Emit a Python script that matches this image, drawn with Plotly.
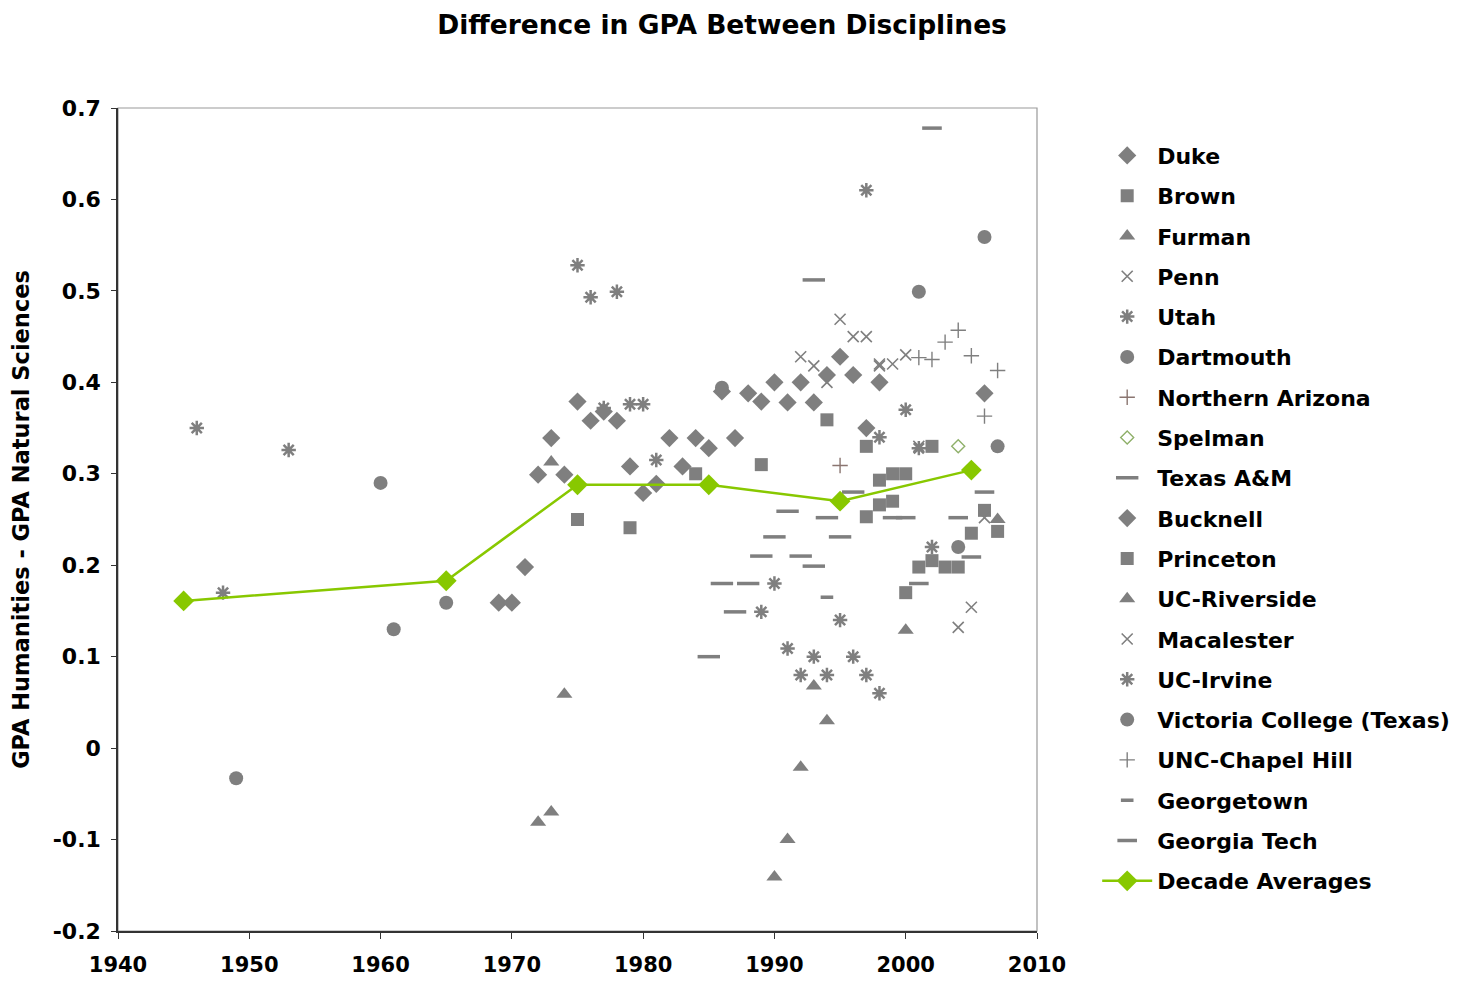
import plotly.graph_objects as go

# ---------------- data ----------------
duke_years = [1986, 1987, 1988, 1989, 1990, 1991, 1992, 1993, 1994, 1995, 1996, 1997, 1998, 2006]
duke_vals = [0.39, 0.339, 0.388, 0.379, 0.40, 0.378, 0.40, 0.378, 0.408, 0.428, 0.408, 0.35, 0.40, 0.388]

brown_years = [1975, 1979, 1984, 1989, 1994, 1997, 1997, 2002]
brown_vals = [0.25, 0.241, 0.30, 0.31, 0.359, 0.33, 0.253, 0.33]

furman_years = [1972, 1973, 1973, 1974, 2000, 2007]
furman_vals = [-0.081, -0.07, 0.313, 0.059, 0.129, 0.25]

penn_years = [1992, 1993, 1994, 1995, 1996, 1997, 1998, 1998, 1999, 2000]
penn_vals = [0.428, 0.418, 0.40, 0.469, 0.45, 0.45, 0.418, 0.42, 0.42, 0.43]

utah_years = [1946, 1948, 1953, 1975, 1976, 1977, 1978, 1979, 1980, 1981]
utah_vals = [0.350, 0.170, 0.326, 0.528, 0.493, 0.372, 0.499, 0.376, 0.376, 0.315]

dartmouth_years = [1986, 2001, 2004, 2006, 2007]
dartmouth_vals = [0.394, 0.499, 0.22, 0.559, 0.33]

nau_years = [1995]
nau_vals = [0.309]

spelman_years = [2004]
spelman_vals = [0.33]

tamu_years = [1985, 1986, 1987, 1988, 1989, 1990, 1991, 1992, 1993, 1993, 1994, 1995, 1996]
tamu_vals = [0.10, 0.18, 0.149, 0.18, 0.21, 0.231, 0.259, 0.21, 0.199, 0.512, 0.252, 0.231, 0.28]

bucknell_years = [1969, 1970, 1971, 1972, 1973, 1974, 1975, 1976, 1977, 1978, 1979, 1980,
                  1981, 1982, 1983, 1984, 1985]
bucknell_vals = [0.159, 0.159, 0.198, 0.299, 0.339, 0.299, 0.379, 0.358, 0.368, 0.358, 0.308,
                 0.279, 0.289, 0.339, 0.308, 0.339, 0.328]

princeton_years = [1998, 1998, 1999, 1999, 2000, 2000, 2001, 2002, 2003, 2004, 2005, 2006, 2007]
princeton_vals = [0.293, 0.266, 0.27, 0.30, 0.30, 0.17, 0.198, 0.205, 0.198, 0.198, 0.235, 0.26, 0.237]

ucr_years = [1990, 1991, 1992, 1993, 1994]
ucr_vals = [-0.141, -0.10, -0.021, 0.068, 0.03]

macalester_years = [2001, 2004, 2005, 2006]
macalester_vals = [0.33, 0.132, 0.154, 0.252]

uci_years = [1989, 1990, 1991, 1992, 1993, 1994, 1995, 1996, 1997, 1997, 1998, 1998, 2000, 2001, 2002]
uci_vals = [0.149, 0.18, 0.109, 0.08, 0.10, 0.08, 0.14, 0.10, 0.08, 0.61, 0.06, 0.34, 0.37, 0.328, 0.22]

victoria_years = [1949, 1960, 1961, 1965]
victoria_vals = [-0.033, 0.29, 0.13, 0.159]

unc_years = [2001, 2002, 2003, 2004, 2005, 2006, 2007]
unc_vals = [0.427, 0.425, 0.444, 0.457, 0.429, 0.363, 0.413]

georgetown_years = [1994]
georgetown_vals = [0.165]

gatech_years = [1999, 2000, 2001, 2002, 2004, 2005, 2006]
gatech_vals = [0.252, 0.252, 0.18, 0.678, 0.252, 0.209, 0.28]

decade_years = [1945, 1965, 1975, 1985, 1995, 2005]
decade_vals = [0.161, 0.183, 0.288, 0.288, 0.270, 0.304]

x_ticks = [1940, 1950, 1960, 1970, 1980, 1990, 2000, 2010]
y_ticks = [-0.2, -0.1, 0, 0.1, 0.2, 0.3, 0.4, 0.5, 0.6, 0.7]
y_tick_labels = ["-0.2", "-0.1", "0", "0.1", "0.2", "0.3", "0.4", "0.5", "0.6", "0.7"]

# ---------------- figure ----------------
GRAY = "#7f7f7f"
FONT = "DejaVu Sans, Verdana, sans-serif"

series = [
    ("Duke", duke_years, duke_vals, "diamond", 14, GRAY, None),
    ("Brown", brown_years, brown_vals, "square", 13, GRAY, None),
    ("Furman", furman_years, furman_vals, "triangle-up", 14, GRAY, None),
    ("Penn", penn_years, penn_vals, "x-thin-open", 11, GRAY, 1.6),
    ("Utah", utah_years, utah_vals, "asterisk-open", 12, GRAY, 2.5),
    ("Dartmouth", dartmouth_years, dartmouth_vals, "circle", 14, GRAY, None),
    ("Northern Arizona", nau_years, nau_vals, "cross-thin-open", 11, "#8a7570", 1.4),
    ("Spelman", spelman_years, spelman_vals, "diamond-open", 10, "#8fb06a", 1.4),
    ("Texas A&M", tamu_years, tamu_vals, "line-ew-open", 16, GRAY, 3.5),
    ("Bucknell", bucknell_years, bucknell_vals, "diamond", 14, GRAY, None),
    ("Princeton", princeton_years, princeton_vals, "square", 13, GRAY, None),
    ("UC-Riverside", ucr_years, ucr_vals, "triangle-up", 14, GRAY, None),
    ("Macalester", macalester_years, macalester_vals, "x-thin-open", 11, GRAY, 1.6),
    ("UC-Irvine", uci_years, uci_vals, "asterisk-open", 12, GRAY, 2.5),
    ("Victoria College (Texas)", victoria_years, victoria_vals, "circle", 14, GRAY, None),
    ("UNC-Chapel Hill", unc_years, unc_vals, "cross-thin-open", 11, GRAY, 1.4),
    ("Georgetown", georgetown_years, georgetown_vals, "line-ew-open", 9, GRAY, 3.5),
    ("Georgia Tech", gatech_years, gatech_vals, "line-ew-open", 14, GRAY, 3.5),
]

fig = go.Figure()
for i, (name, xs, ys, sym, size, col, lw) in enumerate(series):
    marker = dict(symbol=sym, size=size, color=col)
    if lw is not None:
        marker["line"] = dict(color=col, width=lw)
    else:
        marker["line"] = dict(width=0)
    fig.add_trace(go.Scatter(x=xs, y=ys, mode="markers", name=f"<b>{name}</b>", marker=marker,
                             legendgroup=f"g{i}"))

fig.add_trace(go.Scatter(x=decade_years, y=decade_vals, mode="lines+markers",
                         name="<b>Decade Averages</b>", legendgroup="gavg",
                         line=dict(color="#88c800", width=2.5),
                         marker=dict(symbol="diamond", size=16, color="#88c800")))

fig.update_layout(
    width=1468, height=981,
    paper_bgcolor="white", plot_bgcolor="white",
    margin=dict(l=110, r=439, t=100, b=58, autoexpand=False),
    title=dict(text="<b>Difference in GPA Between Disciplines</b>", x=0.4864, xanchor="center",
               y=0.9827, yanchor="middle", font=dict(family=FONT, size=26.5, color="black")),
    font=dict(family=FONT, color="black"),
    showlegend=True,
    legend=dict(x=1.0655, xanchor="left", y=0.9677, yanchor="top",
                font=dict(family=FONT, size=22, color="black"),
                tracegroupgap=8.7, itemwidth=50, bgcolor="rgba(0,0,0,0)"),
)
fig.update_xaxes(range=[1940, 2010], tickvals=x_ticks, ticktext=[f"<b>{t}</b>" for t in x_ticks],
                 ticks="outside", ticklen=6, tickcolor="#333", showline=True, linecolor="#333",
                 linewidth=1.5, mirror=False, showgrid=False, zeroline=False, automargin=False,
                 ticklabelstandoff=8,
                 tickfont=dict(family=FONT, size=21, color="black"))
fig.update_yaxes(range=[-0.2, 0.7], tickvals=y_ticks, ticktext=[f"<b>{t}</b>" for t in y_tick_labels],
                 ticks="outside", ticklen=5, tickcolor="#333", showline=True, linecolor="#333",
                 linewidth=1.5, showgrid=False, zeroline=False, automargin=False,
                 ticklabelstandoff=6,
                 tickfont=dict(family=FONT, size=22, color="black"),
                 title=dict(text="<b>GPA Humanities - GPA Natural Sciences</b>",
                            font=dict(family=FONT, size=22.5, color="black"), standoff=20))
# thin frame on top and right
fig.add_shape(type="rect", xref="paper", yref="paper", x0=0, y0=0, x1=1, y1=1,
              line=dict(color="#999", width=1.2), layer="below")

fig.write_html("out.html")
